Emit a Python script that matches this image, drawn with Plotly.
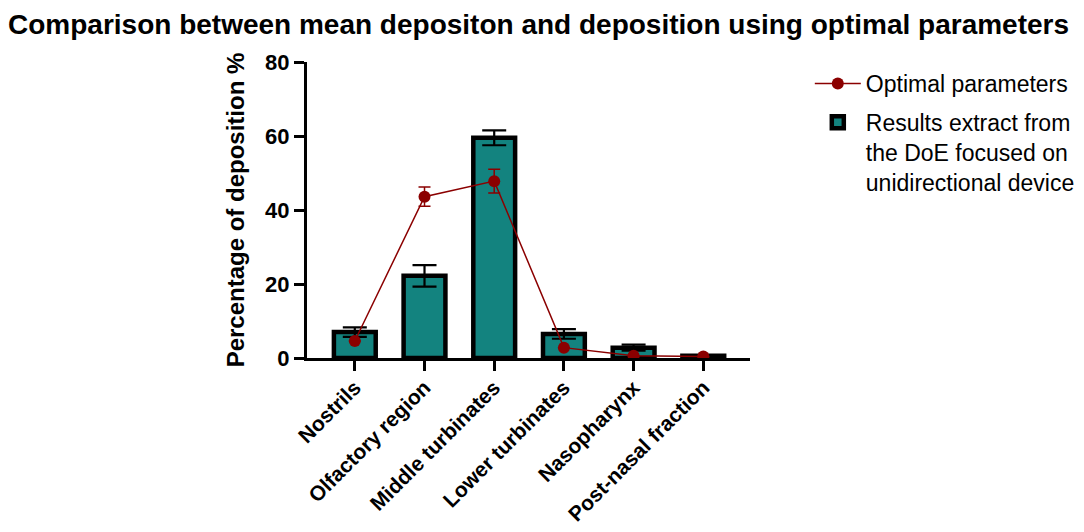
import plotly.graph_objects as go

# datos
regiones = ['Nostrils', 'Olfactory region', 'Middle turbinates',
            'Lower turbinates', 'Nasopharynx', 'Post-nasal fraction']
media_doe = [7.0, 22.2, 59.5, 6.5, 2.8, 0.6]
error_doe = [1.3, 2.9, 2.0, 1.3, 0.8, 0.2]
optimo = [4.6, 43.6, 47.8, 2.8, 0.6, 0.4]
error_optimo = [0.0, 2.6, 3.2, 0.0, 0.0, 0.0]

fuente = 'Liberation Sans, Arial, sans-serif'
verde = '#13837f'
rojo = '#8b0000'

fig = go.Figure()

fig.add_trace(go.Bar(
    x=regiones, y=media_doe,
    name='Results extract from<br>the DoE focused on<br>unidirectional device',
    legendgroup='doe', legendrank=2,
    marker=dict(color=verde, line=dict(color='black', width=4.5)),
    width=0.6,
    error_y=dict(type='data', array=error_doe, color='black', thickness=2.2, width=12),
))

fig.add_trace(go.Scatter(
    x=regiones, y=optimo,
    name='Optimal parameters',
    legendgroup='opt', legendrank=1,
    mode='lines+markers',
    line=dict(color=rojo, width=1.5),
    marker=dict(color=rojo, size=12),
    error_y=dict(type='data', array=error_optimo, color=rojo, thickness=1.5, width=6),
))

# la pagina tiene 8 px de margen en el body, se compensa en los margenes
fig.update_layout(
    width=1084, height=532,
    margin=dict(l=299, r=340, t=54, b=182),
    plot_bgcolor='white', paper_bgcolor='white',
    font=dict(family=fuente, color='black'),
    title=dict(text='<b>Comparison between mean depositon and deposition using optimal parameters</b>',
               x=0, xref='container', xanchor='left',
               y=0.988, yref='container', yanchor='top', pad=dict(t=0, l=0),
               font=dict(size=28, family=fuente, color='black')),
    legend=dict(x=1.135, y=1.0, xanchor='left', yanchor='top',
                traceorder='grouped', font=dict(size=23, family=fuente),
                itemwidth=46, valign='top', tracegroupgap=6),
    showlegend=True,
)

fig.update_xaxes(
    range=[-0.686, 5.67], automargin=False,
    showline=True, linecolor='black', linewidth=3,
    ticks='outside', ticklen=10, tickwidth=3, tickcolor='black',
    tickangle=-45, ticklabelstandoff=-4,
    tickfont=dict(size=21, family=fuente, color='black', weight='bold'),
    showgrid=False,
)

fig.update_yaxes(
    range=[0, 80], tickvals=[0, 20, 40, 60, 80], automargin=False,
    showline=True, linecolor='black', linewidth=3,
    ticks='outside', ticklen=10, tickwidth=3, tickcolor='black',
    tickfont=dict(size=22, family=fuente, color='black', weight='bold'),
    title=dict(text='<b>Percentage of deposition %</b>', font=dict(size=24, family=fuente), standoff=14),
    showgrid=False, zeroline=False,
)

fig.write_html('out.html')
